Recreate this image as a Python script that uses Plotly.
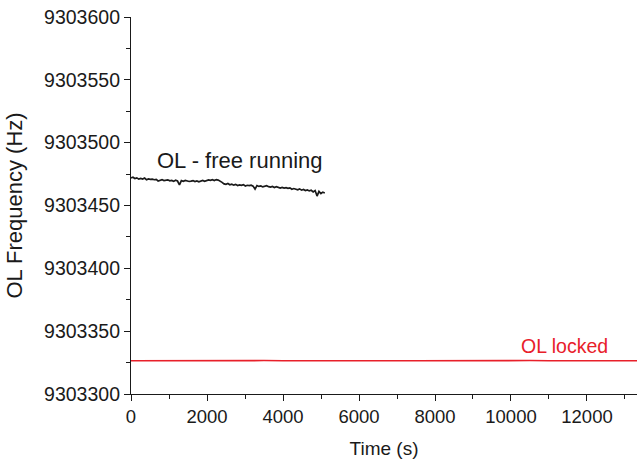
import plotly.graph_objects as go

BASE_HZ = 9303400

# Free-running OL: time (s) and frequency offset above BASE_HZ (Hz)
time_free = list(range(0, 5101, 51))
offset_free = [
    72.0, 72.5, 71.5, 72.0, 71.0, 71.5, 71.0, 71.8, 70.5, 71.2, 70.8,
    71.0, 70.5, 70.8, 69.5, 70.2, 70.6, 69.8, 70.0, 70.4, 69.6,
    70.0, 69.2, 70.1, 69.5, 66.5, 69.8, 69.3, 70.0, 69.6, 69.1,
    69.4, 69.8, 69.0, 69.5, 68.8, 69.6, 70.0, 69.2, 69.7, 70.3,
    70.0, 70.5, 69.8, 70.6, 70.2, 69.5, 68.4, 67.2, 66.8, 67.5,
    66.5, 67.0, 66.2, 66.8, 65.9, 66.4, 66.0, 66.6, 65.5, 66.1,
    65.8, 66.2, 65.4, 63.0, 65.9, 65.2, 65.6, 64.8, 65.3, 65.7,
    65.0, 64.6, 65.2, 64.3, 64.9, 64.5, 63.8, 64.4, 63.9, 64.2,
    63.6, 64.0, 62.9, 63.5, 63.1, 62.5, 63.2, 62.2, 62.8, 61.9,
    62.4, 61.6, 62.1, 60.8, 61.9, 57.5, 61.2, 59.5, 60.6, 60.0,
]

# Locked OL
time_locked = list(range(0, 13501, 500))
offset_locked = [
    -73.6, -73.5, -73.7, -73.4, -73.5, -73.6, -73.5, -73.4, -73.5, -73.6,
    -73.4, -73.5, -73.5, -73.4, -73.6, -73.5, -73.4, -73.5, -73.5, -73.4,
    -73.5, -73.4, -73.5, -73.5, -73.4, -73.5, -73.4, -73.5,
]

y_free = [BASE_HZ + v for v in offset_free]
y_locked = [BASE_HZ + v for v in offset_locked]

x_ticks = [0, 2000, 4000, 6000, 8000, 10000, 12000]
y_ticks = [9303300, 9303350, 9303400, 9303450, 9303500, 9303550, 9303600]

FONT = "Liberation Sans, Arial, sans-serif"
INK = "#1a1a1a"

fig = go.Figure()
fig.add_trace(go.Scatter(x=time_locked, y=y_locked, mode="lines",
                         line=dict(color="#e8202a", width=1.6), showlegend=False))
fig.add_trace(go.Scatter(x=time_free, y=y_free, mode="lines",
                         line=dict(color=INK, width=1.7), showlegend=False))

fig.add_annotation(x=2860, y=9303486, text="OL - free running", showarrow=False,
                   font=dict(family=FONT, size=22, color=INK))
fig.add_annotation(x=11410, y=9303338, text="OL locked", showarrow=False,
                   font=dict(family=FONT, size=19.5, color="#e8202a"))

fig.update_layout(
    width=637, height=460,
    margin=dict(l=131, r=0, t=17, b=66),
    paper_bgcolor="white", plot_bgcolor="white",
    font=dict(family=FONT, size=18, color=INK),
    xaxis=dict(range=[0, 13316], tickvals=x_ticks, ticktext=[str(v) for v in x_ticks],
               automargin=False, ticklabeloverflow="allow",
               showgrid=False, zeroline=False, showline=True, linecolor=INK,
               linewidth=1.2, ticks="outside", ticklen=6, tickwidth=1.2, tickcolor=INK,
               minor=dict(dtick=1000, tick0=0, ticks="outside", ticklen=3.5, tickcolor=INK),
               title=dict(text="Time (s)", font=dict(size=19)),
               tickfont=dict(size=18.5)),
    yaxis=dict(range=[9303300, 9303600], tickvals=y_ticks, ticktext=[str(v) for v in y_ticks],
               automargin=False, ticklabeloverflow="allow",
               showgrid=False, zeroline=False, showline=True, linecolor=INK,
               linewidth=1.2, ticks="outside", ticklen=6, tickwidth=1.2, tickcolor=INK,
               minor=dict(dtick=25, tick0=9303300, ticks="outside", ticklen=3.5, tickcolor=INK),
               title=dict(text="OL Frequency (Hz)", font=dict(size=22)),
               tickfont=dict(size=19.5)),
)

# remove the browser's default 8px page margin so the figure fills the window
fig.write_html("out.html", config={"displayModeBar": False},
               post_script="document.body.style.margin='0';document.body.style.overflow='hidden';")
